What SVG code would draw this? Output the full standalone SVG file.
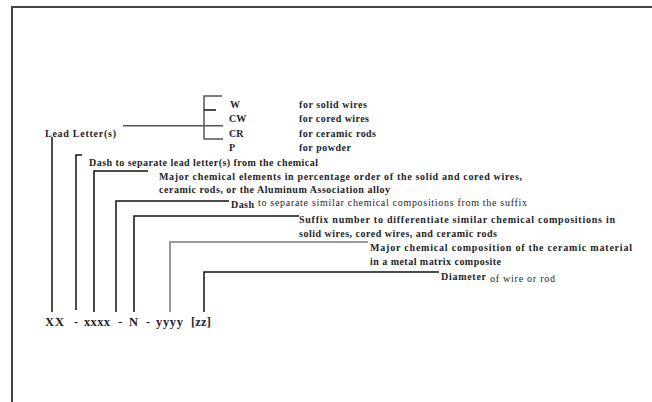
<svg xmlns="http://www.w3.org/2000/svg" width="652" height="402" viewBox="0 0 652 402">
<style>
text{font-family:"Liberation Serif","Times New Roman",serif;fill:#1e1e28;font-weight:bold;font-size:10px}
.n{font-weight:normal}
.big{font-size:12.5px}
.ln{fill:none;stroke:#111;stroke-width:1.5}
.g{stroke:#555}
.lt{stroke:#999;stroke-width:2}
</style>
<rect width="652" height="402" fill="#fff"/>
<path d="M12,402 V7 H652" fill="none" stroke="#444" stroke-width="2"/>
<g id="connectors">
<path class="ln g" d="M123,125.7 H223" stroke-width="1"/>
<path class="ln g" d="M222,96 H204 V139 H223"/>
<path class="ln" d="M204,110 H216"/>
<path class="ln" d="M52,137 V312"/>
<path class="ln" d="M76,310 V155 H82"/>
<path class="ln" d="M94,312 V171 H148"/>
<path class="ln" d="M116,312 V201 H229"/>
<path class="ln" d="M134,312 V216 H299"/>
<path class="ln lt" d="M170,312 V242 H368"/>
<path class="ln" d="M204,312 V272 H439"/>
</g>
<g id="lead"><text x="45" y="136.5" textLength="71" lengthAdjust="spacing">Lead Letter(s)</text></g>
<g id="w"><text x="230" y="107.5">W</text><text x="299" y="107.5" textLength="68" lengthAdjust="spacing">for solid wires</text></g>
<g id="cw"><text x="229" y="121.5">CW</text><text x="299" y="121.5" textLength="70" lengthAdjust="spacing">for cored wires</text></g>
<g id="cr"><text x="229" y="136.5">CR</text><text x="299" y="136.5" textLength="77" lengthAdjust="spacing">for ceramic rods</text></g>
<g id="p"><text x="229" y="150.5">P</text><text x="299" y="150.5" textLength="52" lengthAdjust="spacing">for powder</text></g>
<g id="dash1"><text x="89" y="165.5" textLength="229" lengthAdjust="spacing">Dash to separate lead letter(s) from the chemical</text></g>
<g id="major"><text x="159" y="179.5" textLength="363" lengthAdjust="spacing">Major chemical elements in percentage order of the solid and cored wires,</text>
<text x="159" y="192.5" textLength="231" lengthAdjust="spacing">ceramic rods, or the Aluminum Association alloy</text></g>
<g id="dash2"><text x="231" y="207.5" textLength="23" lengthAdjust="spacing">Dash</text><text class="n" x="258" y="205.5" textLength="269" lengthAdjust="spacing" font-size="9">to separate similar chemical compositions from the suffix</text></g>
<g id="suffix"><text x="299" y="222.5" textLength="316" lengthAdjust="spacing">Suffix number to differentiate similar chemical compositions in</text>
<text x="299" y="236.5" textLength="198" lengthAdjust="spacing">solid wires, cored wires, and ceramic rods</text></g>
<g id="ceramic"><text x="370" y="250.5" textLength="262" lengthAdjust="spacing">Major chemical composition of the ceramic material</text>
<text x="370" y="264.5" textLength="131" lengthAdjust="spacing">in a metal matrix composite</text></g>
<g id="diameter"><text x="441" y="279.5" textLength="45" lengthAdjust="spacing">Diameter</text><text class="n" x="490" y="281.5" textLength="65" lengthAdjust="spacing">of wire or rod</text></g>
<g id="code">
<text class="big" x="45" y="326" textLength="19" lengthAdjust="spacing">XX</text>
<text class="big" x="74" y="326">-</text>
<text class="big" x="84" y="326" textLength="26" lengthAdjust="spacing">xxxx</text>
<text class="big" x="118" y="326">-</text>
<text class="big" x="129" y="326" textLength="9" lengthAdjust="spacing">N</text>
<text class="big" x="146" y="326">-</text>
<text class="big" x="156" y="326" textLength="27" lengthAdjust="spacing">yyyy</text>
<text class="big" x="191" y="326" textLength="20" lengthAdjust="spacing">[zz]</text>
</g>
</svg>
